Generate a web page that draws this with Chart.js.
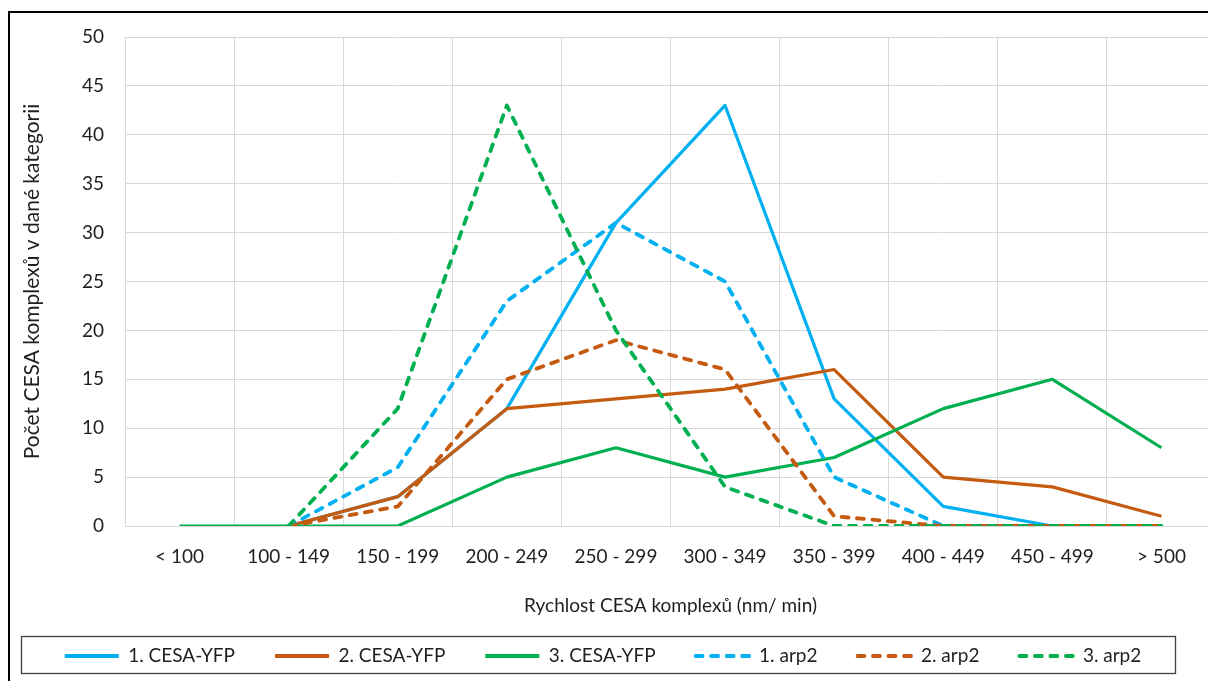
<!DOCTYPE html>
<html lang="cs">
<head>
<meta charset="utf-8">
<title>Rychlost CESA komplexů</title>
<script src="https://cdn.jsdelivr.net/npm/chart.js@4/dist/chart.umd.min.js"></script>
<style>
  html, body { margin: 0; padding: 0; background: #fff; }
  #wrap { width: 1208px; height: 681px; overflow: hidden; position: relative; }
  #chart { display: block; }
</style>
</head>
<body>
<div id="wrap"><canvas id="chart" width="1230" height="681"></canvas></div>
<script>
// kategorie rychlosti (nm/min)
const categories = ['< 100', '100 - 149', '150 - 199', '200 - 249', '250 - 299',
                    '300 - 349', '350 - 399', '400 - 449', '450 - 499', '> 500'];

// počty komplexů
const cesa1 = [null, 0, 3, 12, 31, 43, 13, 2, 0, 0];
const cesa2 = [null, 0, 3, 12, 13, 14, 16, 5, 4, 1];
const cesa3 = [0, 0, 0, 5, 8, 5, 7, 12, 15, 8];
const arp1  = [null, 0, 6, 23, 31, 25, 5, 0, 0, 0];
const arp2  = [null, 0, 2, 15, 19, 16, 1, 0, 0, 0];
const arp3  = [null, 0, 12, 43, 20, 4, 0, 0, 0, 0];

const yTicks = [0, 5, 10, 15, 20, 25, 30, 35, 40, 45, 50];

const BLUE = '#00B0F0', ORANGE = '#C55A11', GREEN = '#00B050';
const FONT = 'Lato, "Noto Sans", sans-serif';
const TXT = '#1f1f1f';

const mk = (label, data, color, dashed, idx) => ({
  label, data,
  borderColor: color, backgroundColor: color,
  borderWidth: dashed ? 3.8 : 3.2,
  borderDash: dashed ? [7, 8.5] : [],
  borderCapStyle: dashed ? 'round' : 'butt',
  borderJoinStyle: 'round',
  pointRadius: 0, pointHoverRadius: 0,
  tension: 0, fill: false,
  order: 10 - idx   // později přidané řady kreslit navrch (jako Excel)
});

// legenda: čára s přerušováním podle řady
const legendLabels = (chart) => {
  const base = Chart.defaults.plugins.legend.labels.generateLabels(chart);
  return base.map(it => {
    const ds = chart.data.datasets[it.datasetIndex];
    return { ...it, lineDash: ds.borderDash, lineCap: ds.borderCapStyle, lineWidth: 3.8,
             strokeStyle: ds.borderColor, pointStyle: 'line' };
  });
};

// rámečky: okraj grafu + okraj legendy, posun legendy
const frame = {
  id: 'frame',
  afterLayout(chart) {
    const lg = chart.legend;
    const h = lg.height;
    lg.top = 656 - 40 - 9.5;
    lg.bottom = lg.top + h;
    const shift = 603 - (lg.left + lg.right) / 2;
    lg.left += shift; lg.right += shift;
  },
  beforeDraw(chart) {
    const c = chart.ctx;
    c.save();
    c.fillStyle = '#fff';
    c.fillRect(0, 0, chart.width, chart.height);
    c.restore();
  },
  afterDraw(chart) {
    const c = chart.ctx;
    c.save();
    c.strokeStyle = '#000';
    c.lineWidth = 2;
    c.beginPath();
    c.moveTo(9, 700); c.lineTo(9, 12); c.lineTo(1240, 12);
    c.stroke();
    c.strokeStyle = '#404040';
    c.lineWidth = 1.3;
    c.strokeRect(21.5, 636.5, 1154, 37);
    c.restore();
  }
};

new Chart(document.getElementById('chart'), {
  type: 'line',
  data: {
    labels: categories,
    datasets: [
      mk('1. CESA-YFP', cesa1, BLUE, false, 0),
      mk('2. CESA-YFP', cesa2, ORANGE, false, 1),
      mk('3. CESA-YFP', cesa3, GREEN, false, 2),
      mk('1. arp2', arp1, BLUE, true, 3),
      mk('2. arp2', arp2, ORANGE, true, 4),
      mk('3. arp2', arp3, GREEN, true, 5)
    ]
  },
  options: {
    responsive: false,
    animation: false,
    layout: { padding: { left: 0, right: 14, top: 37, bottom: -24 } },
    plugins: {
      tooltip: { enabled: false },
      legend: {
        position: 'bottom',
        labels: {
          usePointStyle: true,
          pointStyle: 'line',
          pointStyleWidth: 54,
          padding: 40,
          color: TXT,
          font: { family: FONT, size: 19 },
          generateLabels: legendLabels,
          sort: (a, b) => a.datasetIndex - b.datasetIndex
        }
      }
    },
    scales: {
      x: {
        offset: true,
        grid: { offset: true, color: '#d9d9d9', lineWidth: 1, drawTicks: false },
        border: { color: '#d9d9d9' },
        ticks: { color: TXT, font: { family: FONT, size: 19 }, padding: 19, maxRotation: 0, autoSkip: false },
        title: { display: true, text: 'Rychlost CESA komplexů (nm/ min)', color: TXT,
                 font: { family: FONT, size: 19 }, padding: { top: 0, bottom: 19 } },
        afterFit: s => { s.height = 110; }
      },
      y: {
        min: 0, max: 50,
        afterBuildTicks: s => { s.ticks = yTicks.map(v => ({ value: v })); },
        grid: { color: '#d9d9d9', lineWidth: 1, drawTicks: false },
        border: { display: false },
        ticks: { color: TXT, font: { family: FONT, size: 19 }, padding: 21 },
        title: { display: true, text: 'Počet CESA komplexů v dané kategorii', color: TXT,
                 font: { family: FONT, size: 21 }, padding: { top: 20, bottom: 0 } },
        afterFit: s => { s.width = 125; }
      }
    }
  },
  plugins: [frame]
});
</script>
</body>
</html>
